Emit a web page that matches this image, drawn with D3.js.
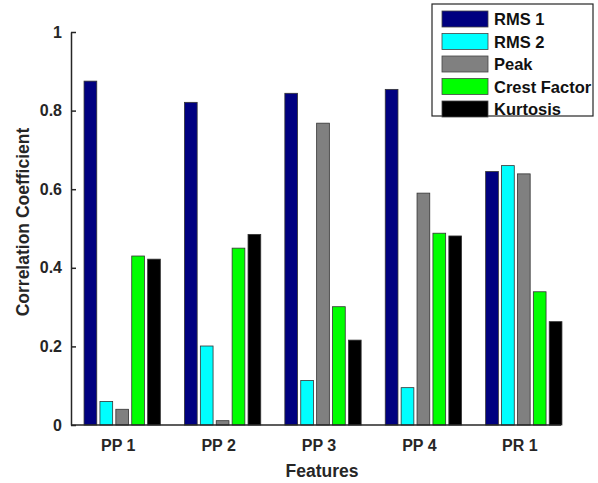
<!DOCTYPE html>
<html>
<head>
<meta charset="utf-8">
<script src="https://cdn.jsdelivr.net/npm/d3@7"></script>
<style>
  body { margin: 0; background: #fff; }
  text { font-family: "Liberation Sans", Arial, sans-serif; font-weight: bold; }
</style>
</head>
<body>
<svg id="chart"></svg>
<script>
// data
const features = ["PP 1", "PP 2", "PP 3", "PP 4", "PR 1"];
const seriesNames = ["RMS 1", "RMS 2", "Peak", "Crest Factor", "Kurtosis"];
const seriesColors = ["#000080", "#00ffff", "#808080", "#00ff00", "#000000"];
const rms1 = [0.875, 0.821, 0.844, 0.854, 0.645];
const rms2 = [0.060, 0.201, 0.113, 0.095, 0.660];
const peak = [0.040, 0.011, 0.768, 0.590, 0.639];
const crestFactor = [0.430, 0.450, 0.301, 0.488, 0.339];
const kurtosis = [0.422, 0.485, 0.216, 0.481, 0.263];
const yTicks = [0, 0.2, 0.4, 0.6, 0.8, 1];

const allSeries = [rms1, rms2, peak, crestFactor, kurtosis];

const width = 598, height = 483;
const svg = d3.select("#chart").attr("width", width).attr("height", height);

const axisColor = "#262626";

// scales
const x = d3.scaleBand()
    .domain(features)
    .range([72, 574])
    .paddingInner(0.24)
    .paddingOuter(0.12);
const xSub = d3.scaleBand()
    .domain(seriesNames)
    .range([0, x.bandwidth()])
    .paddingInner(0.2);
const y = d3.scaleLinear()
    .domain([0, 1])
    .range([425, 32]);

// bars
const groups = svg.append("g")
    .selectAll("g")
    .data(features)
    .join("g")
    .attr("transform", d => `translate(${x(d)},0)`);

groups.selectAll("rect")
    .data((d, i) => seriesNames.map((s, j) => ({ s: s, j: j, v: allSeries[j][i] })))
    .join("rect")
    .attr("x", d => xSub(d.s))
    .attr("y", d => y(d.v))
    .attr("width", xSub.bandwidth())
    .attr("height", d => y(0) - y(d.v))
    .attr("fill", d => seriesColors[d.j])
    .attr("stroke", "#333")
    .attr("stroke-width", 0.8);

// y axis
const yAxis = d3.axisRight(y)
    .tickValues(yTicks)
    .tickFormat(d => d)
    .tickSize(5)
    .tickSizeOuter(0);
const yAxisG = svg.append("g")
    .attr("transform", "translate(71,0)")
    .call(yAxis);
yAxisG.select(".domain").attr("stroke", axisColor).attr("stroke-width", 1.5);
yAxisG.selectAll(".tick line").attr("stroke", axisColor).attr("stroke-width", 1.5);
yAxisG.selectAll(".tick text")
    .attr("x", -9)
    .attr("text-anchor", "end")
    .attr("fill", axisColor)
    .style("font-size", "16px");

// x axis
const xAxisG = svg.append("g")
    .attr("transform", "translate(0,425)");
xAxisG.append("line")
    .attr("x1", 71).attr("x2", 561)
    .attr("stroke", axisColor)
    .attr("stroke-width", 1.5);
xAxisG.selectAll("text")
    .data(features)
    .join("text")
    .attr("x", d => x(d) + x.bandwidth() / 2 - 4)
    .attr("y", 26)
    .attr("text-anchor", "middle")
    .attr("fill", axisColor)
    .style("font-size", "16px")
    .text(d => d);

// axis titles
svg.append("text")
    .attr("x", 322)
    .attr("y", 477)
    .attr("text-anchor", "middle")
    .attr("fill", axisColor)
    .style("font-size", "17.5px")
    .text("Features");
svg.append("text")
    .attr("transform", "translate(29,222) rotate(-90)")
    .attr("text-anchor", "middle")
    .attr("fill", axisColor)
    .style("font-size", "17.5px")
    .text("Correlation Coefficient");

// legend
const legend = svg.append("g").attr("transform", "translate(432,4)");
legend.append("rect")
    .attr("width", 161)
    .attr("height", 112)
    .attr("fill", "#fff")
    .attr("stroke", "#262626")
    .attr("stroke-width", 1.2);
const items = legend.selectAll("g.item")
    .data(seriesNames)
    .join("g")
    .attr("class", "item")
    .attr("transform", (d, i) => `translate(10,${7 + i * 22.5})`);
items.append("rect")
    .attr("width", 46)
    .attr("height", 16)
    .attr("fill", (d, i) => seriesColors[i])
    .attr("stroke", "#444")
    .attr("stroke-width", 0.8);
items.append("text")
    .attr("x", 52)
    .attr("y", 14)
    .attr("fill", "#111")
    .style("font-size", "16.5px")
    .text(d => d);
</script>
</body>
</html>
